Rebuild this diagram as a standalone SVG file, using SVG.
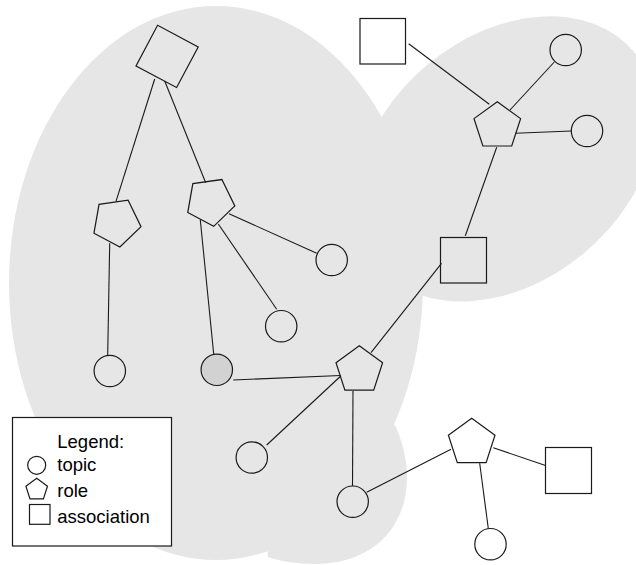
<svg xmlns="http://www.w3.org/2000/svg" xmlns:xlink="http://www.w3.org/1999/xlink" width="636" height="565" viewBox="0 0 636 565">
<style>
.blob { fill:#e6e6e6; stroke:none }
.shape { fill:none; stroke:#1a1a1a; stroke-width:1.2 }
.grey { fill:#d2d2d2 }
.conn line { stroke:#1a1a1a; stroke-width:1.1; fill:none }
.lbl { font-family:"Liberation Sans", Arial, sans-serif; font-size:18.5px; fill:#000 }
</style>
<defs>
<polygon id="pent" points="0,-24.5 23.3,-7.57 14.4,19.8 -14.4,19.8 -23.3,-7.57"/>
<rect id="sq" x="-23" y="-23" width="46" height="46"/>
<circle id="topic" r="15.7"/>
</defs>

<g id="scope">
<ellipse class="blob" cx="216" cy="283" rx="207" ry="277"/>
<ellipse class="blob" cx="0" cy="0" rx="167" ry="122.5" transform="translate(505.7,158.9) rotate(-40)"/>
<path class="blob" d="M395,425 C402,440 407,460 407,477 C407,530 370,563 317,564 C295,564 280,561 268,557 L260,450 Z"/>
</g>

<g id="connectors" class="conn">
<line x1="154.7" y1="79" x2="116" y2="201.3"/>
<line x1="164.7" y1="81" x2="205.7" y2="182.7"/>
<line x1="109.7" y1="243.3" x2="107.7" y2="355"/>
<line x1="229" y1="213.7" x2="316.7" y2="253.3"/>
<line x1="218.3" y1="224" x2="276.7" y2="309.3"/>
<line x1="200.3" y1="220" x2="213.7" y2="354"/>
<line x1="233.3" y1="380" x2="340.5" y2="375.5"/>
<line x1="266.7" y1="445" x2="340.8" y2="376"/>
<line x1="353" y1="391" x2="352.5" y2="486"/>
<line x1="371" y1="352.7" x2="441.5" y2="263.3"/>
<line x1="465.3" y1="235.7" x2="496.7" y2="147.3"/>
<line x1="408.7" y1="43.7" x2="489.3" y2="104.3"/>
<line x1="510" y1="110" x2="554.3" y2="62"/>
<line x1="515.3" y1="133.3" x2="571.3" y2="131"/>
<line x1="451" y1="449.3" x2="366.7" y2="492.3"/>
<line x1="493.3" y1="447.7" x2="545.5" y2="465.5"/>
<line x1="479.7" y1="463.3" x2="488.3" y2="528.5"/>
</g>

<g id="assoc-top-left"><use href="#sq" class="shape" transform="translate(167.1,56.4) rotate(28)"/></g>
<g id="assoc-top"><rect class="shape" x="360" y="18.5" width="45.5" height="45.5"/></g>
<g id="assoc-middle"><rect class="shape" x="440.5" y="237.5" width="46" height="45.5"/></g>
<g id="assoc-bottom-right"><rect class="shape" x="545.5" y="447.5" width="46" height="46"/></g>

<g id="role-left"><use href="#pent" class="shape" transform="translate(116.4,222.3) rotate(28) scale(1.02)"/></g>
<g id="role-upper"><use href="#pent" class="shape" transform="translate(210.2,201.6) rotate(28) scale(1.02)"/></g>
<g id="role-top-right"><use href="#pent" class="shape" transform="translate(497.3,126.2)"/></g>
<g id="role-middle"><use href="#pent" class="shape" transform="translate(359.3,370.3)"/></g>
<g id="role-bottom"><use href="#pent" class="shape" transform="translate(471.7,442.8)"/></g>

<g id="topic-1"><circle class="shape" cx="565.7" cy="50" r="15.7"/></g>
<g id="topic-2"><circle class="shape" cx="587" cy="131" r="15.7"/></g>
<g id="topic-3"><circle class="shape" cx="331.7" cy="260" r="15.7"/></g>
<g id="topic-4"><circle class="shape" cx="281.2" cy="326.2" r="15.7"/></g>
<g id="topic-5"><circle class="shape" cx="109.8" cy="371" r="15.7"/></g>
<g id="topic-6"><circle class="shape grey" cx="216.8" cy="369.8" r="15.7"/></g>
<g id="topic-7"><circle class="shape" cx="251.8" cy="457.5" r="15.7"/></g>
<g id="topic-8"><circle class="shape" cx="352.7" cy="501.7" r="15.7"/></g>
<g id="topic-9"><circle class="shape" cx="490.5" cy="544.2" r="15.7"/></g>

<g id="legend">
<rect x="12.5" y="417.5" width="159" height="128.5" fill="#fff" stroke="#1a1a1a" stroke-width="1.2"/>
<text class="lbl" x="57.3" y="447.7">Legend:</text>
<circle class="shape" cx="36.7" cy="465.3" r="9"/>
<text class="lbl" x="57.3" y="471">topic</text>
<polygon class="shape" points="36.7,478.3 47.5,486.2 43.4,498.9 30,498.9 25.9,486.2"/>
<text class="lbl" x="57.3" y="497.3">role</text>
<rect class="shape" x="29.5" y="504.5" width="20.5" height="19.8"/>
<text class="lbl" x="57.3" y="522.7">association</text>
</g>
</svg>
